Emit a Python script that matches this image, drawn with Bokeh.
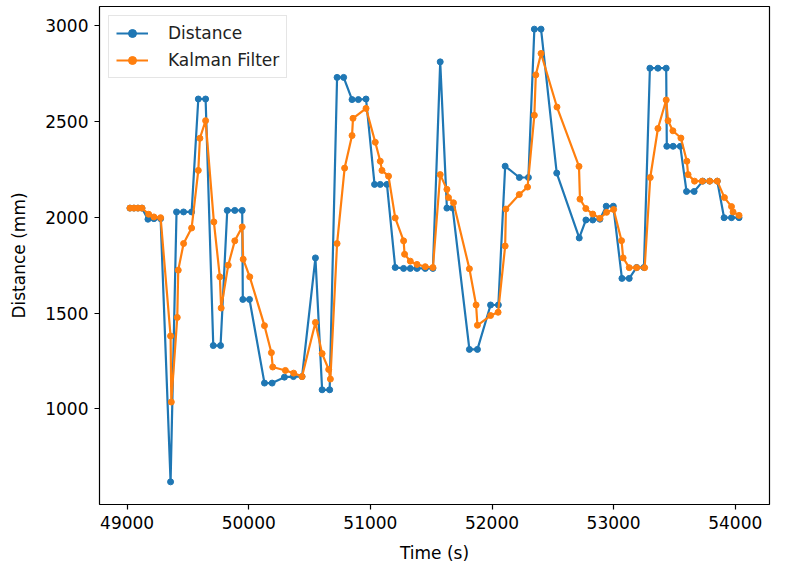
from bokeh.plotting import figure
from bokeh.models import Range1d, FixedTicker
from bokeh.embed import file_html
from bokeh.resources import INLINE

# Distance measurements
dist_t = [49023, 49056, 49089, 49122, 49171, 49220, 49275, 49357, 49406, 49464,
          49530, 49585, 49645, 49708, 49768, 49823, 49885, 49946, 49951, 50006,
          50129, 50192, 50293, 50367, 50438, 50548, 50603, 50665, 50726, 50780,
          50849, 50901, 50964, 51034, 51081, 51136, 51204, 51273, 51328, 51383,
          51451, 51514, 51574, 51629, 51676, 51814, 51880, 51988, 52052, 52108,
          52225, 52299, 52348, 52403, 52532, 52717, 52772, 52828, 52887, 52939,
          52997, 53068, 53128, 53189, 53249, 53298, 53364, 53432, 53437, 53489,
          53548, 53599, 53662, 53733, 53790, 53852, 53908, 53969, 54031]
dist_v = [2048, 2048, 2048, 2048, 1990, 1993, 1993, 618, 2028, 2028,
          2028, 2618, 2618, 1330, 1330, 2036, 2036, 2036, 1571, 1571,
          1134, 1134, 1165, 1168, 1168, 1788, 1099, 1099, 2731, 2731,
          2615, 2615, 2618, 2172, 2172, 2172, 1738, 1733, 1733, 1733,
          1733, 1733, 2812, 2048, 2048, 1310, 1310, 1542, 1542, 2267,
          2208, 2208, 2983, 2983, 2231, 1892, 1986, 1986, 1990, 2058,
          2058, 1681, 1681, 1738, 1738, 2779, 2779, 2779, 2371, 2371,
          2371, 2135, 2135, 2189, 2189, 2189, 1998, 1998, 1998]

# Kalman filter estimates
kf_t = [49023, 49056, 49089, 49122, 49177, 49220, 49275, 49357, 49363, 49412,
        49420, 49464, 49530, 49585, 49598, 49645, 49713, 49762, 49773, 49831,
        49885, 49946, 49954, 50008, 50129, 50186, 50197, 50301, 50369, 50438,
        50548, 50603, 50657, 50671, 50726, 50788, 50849, 50857, 50964, 51040,
        51081, 51095, 51149, 51204, 51273, 51281, 51328, 51383, 51451, 51514,
        51574, 51629, 51642, 51683, 51814, 51869, 51880, 51988, 52050, 52108,
        52114, 52224, 52292, 52348, 52360, 52403, 52534, 52715, 52723, 52771,
        52828, 52887, 52942, 53000, 53065, 53078, 53128, 53189, 53255, 53301,
        53364, 53432, 53447, 53487, 53553, 53602, 53612, 53665, 53729, 53790,
        53852, 53911, 53969, 53982, 54031]
kf_v = [2048, 2048, 2048, 2048, 2016, 2002, 1998, 1380, 1035, 1477,
        1724, 1863, 1944, 2245, 2413, 2505, 1976, 1689, 1526, 1750,
        1877, 1950, 1781, 1689, 1434, 1293, 1218, 1200, 1186, 1168,
        1451, 1288, 1205, 1155, 1863, 2257, 2427, 2517, 2569, 2392,
        2293, 2245, 2215, 1997, 1877, 1807, 1771, 1754, 1742, 1738,
        2223, 2146, 2103, 2076, 1731, 1542, 1436, 1487, 1504, 1850,
        2043, 2119, 2158, 2533, 2744, 2856, 2576, 2266, 2095, 2046,
        2017, 1995, 2026, 2041, 1878, 1788, 1737, 1737, 1737, 2208,
        2464, 2613, 2505, 2452, 2414, 2293, 2223, 2189, 2189, 2189,
        2189, 2103, 2056, 2028, 2010]

x_ticks = [49000, 50000, 51000, 52000, 53000, 54000]
y_ticks = [1000, 1500, 2000, 2500, 3000]

blue = "#1f77b4"
orange = "#ff7f0e"
font = "DejaVu Sans"

all_t = dist_t + kf_t
all_v = dist_v + kf_v
tspan = max(all_t) - min(all_t)
vspan = max(all_v) - min(all_v)

p = figure(width=795, height=574, output_backend="svg", toolbar_location=None,
           x_range=Range1d(min(all_t) - 0.05 * tspan, max(all_t) + 0.05 * tspan),
           y_range=Range1d(min(all_v) - 0.05 * vspan, max(all_v) + 0.05 * vspan),
           min_border_left=99, min_border_right=26, min_border_top=6, min_border_bottom=70)

p.line(dist_t, dist_v, color=blue, line_width=2.2, legend_label="Distance")
p.scatter(dist_t, dist_v, color=blue, size=6, legend_label="Distance")
p.line(kf_t, kf_v, color=orange, line_width=2.2, legend_label="Kalman Filter")
p.scatter(kf_t, kf_v, color=orange, size=6, legend_label="Kalman Filter")

p.xgrid.visible = False
p.ygrid.visible = False
p.outline_line_color = "black"
p.outline_line_width = 1.2
p.background_fill_color = "white"
p.border_fill_color = "white"

p.xaxis.ticker = FixedTicker(ticks=x_ticks)
p.yaxis.ticker = FixedTicker(ticks=y_ticks)
p.xaxis.axis_label = "Time (s)"
p.yaxis.axis_label = "Distance (mm)"
for ax in (p.xaxis, p.yaxis):
    ax.axis_line_color = None
    ax.major_tick_in = 0
    ax.major_tick_out = 5
    ax.major_tick_line_color = "black"
    ax.major_tick_line_width = 1.2
    ax.minor_tick_line_color = None
    ax.major_label_text_font = font
    ax.major_label_text_font_size = "17px"
    ax.major_label_text_color = "black"
    ax.axis_label_text_font = font
    ax.axis_label_text_font_size = "17px"
    ax.axis_label_text_font_style = "normal"
    ax.axis_label_text_color = "black"
    ax.major_label_standoff = 6
p.xaxis.axis_label_standoff = 11
p.yaxis.axis_label_standoff = 13

lg = p.legend[0]
lg.location = "top_left"
lg.margin = 9
lg.padding = 7
lg.spacing = 7
lg.glyph_width = 32
lg.glyph_height = 20
lg.label_height = 20
lg.label_standoff = 20
lg.label_text_font = font
lg.label_text_font_size = "17px"
lg.label_text_color = "#222222"
lg.border_line_color = "#cccccc"
lg.border_line_width = 1.2
lg.background_fill_alpha = 0.8

open("out.html", "w").write(file_html(p, INLINE))
